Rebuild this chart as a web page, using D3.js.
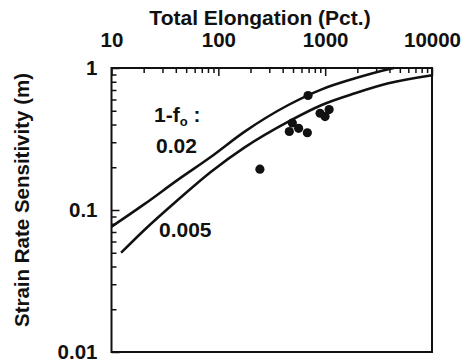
<!DOCTYPE html>
<html lang="en">
<head>
<meta charset="utf-8">
<title>Strain rate sensitivity vs elongation</title>
<script src="https://cdn.jsdelivr.net/npm/d3@7"></script>
<style>
  body { margin: 0; background: #fff; }
  text { font-family: "Liberation Sans", Arial, sans-serif; font-weight: bold; fill: #111; }
</style>
</head>
<body>
<div id="chart"></div>
<script>
// axis ticks
var xTicks = [10, 100, 1000, 10000];
var yTicks = [0.01, 0.1, 1];

// model curves
var upperX = [10, 20.3, 41.7, 85.5, 175, 452, 929, 1905, 3908, 4400];
var upperY = [0.0763, 0.110, 0.163, 0.237, 0.355, 0.549, 0.708, 0.846, 0.98, 1.0];
var lowerX = [12.3, 20.3, 41.7, 85.5, 175, 452, 929, 1905, 3908, 10000];
var lowerY = [0.050, 0.0723, 0.1175, 0.186, 0.275, 0.419, 0.549, 0.664, 0.780, 0.89];

// measured points
var elong = [692, 493, 462, 564, 681, 896, 998, 1089, 245];
var mVals = [0.64, 0.41, 0.357, 0.376, 0.35, 0.48, 0.455, 0.51, 0.194];

var w = 463, h = 362;
// plot box (note: "top" is taken by window.top, so use pl/pr/pt/pb)
var pl = 111.5, pr = 432, pt = 68, pb = 352;

var svg = d3.select("#chart").append("svg")
  .attr("width", w)
  .attr("height", h);

var x = d3.scaleLog().domain([10, 10000]).range([pl, pr]);
var y = d3.scaleLog().domain([0.01, 1]).range([pb, pt]);

// minor ticks 2..9 of each decade
function minors(lo, hi) {
  var out = [];
  for (var d = lo; d < hi * 0.999; d *= 10) {
    for (var k = 2; k <= 9; k++) out.push(d * k);
  }
  return out;
}

// top axis: minor and major ticks pointing in
svg.append("g")
  .attr("transform", "translate(0," + pt + ")")
  .call(d3.axisTop(x).tickValues(minors(10, 10000)).tickSize(-5).tickFormat(""))
  .call(function(g) { g.select(".domain").remove(); });

svg.append("g")
  .attr("transform", "translate(0," + pt + ")")
  .call(d3.axisTop(x).tickValues(xTicks).tickSize(-8).tickPadding(21).tickFormat(d3.format("d")))
  .call(function(g) { g.select(".domain").remove(); })
  .selectAll("text")
  .attr("font-size", 20.5)
  .attr("dy", 0);

// left axis
svg.append("g")
  .attr("transform", "translate(" + pl + ",0)")
  .call(d3.axisLeft(y).tickValues(minors(0.01, 1)).tickSize(-5).tickFormat(""))
  .call(function(g) { g.select(".domain").remove(); });

svg.append("g")
  .attr("transform", "translate(" + pl + ",0)")
  .call(d3.axisLeft(y).tickValues(yTicks).tickSize(-8).tickPadding(14).tickFormat(function(d) { return String(d); }))
  .call(function(g) { g.select(".domain").remove(); })
  .selectAll("text")
  .attr("font-size", 20.5);

svg.selectAll(".tick line").attr("stroke", "#111").attr("stroke-width", 1.5);
svg.selectAll(".tick text").attr("fill", "#111");

// frame
svg.append("rect")
  .attr("x", pl)
  .attr("y", pt)
  .attr("width", pr - pl)
  .attr("height", pb - pt)
  .attr("fill", "none")
  .attr("stroke", "#111")
  .attr("stroke-width", 2);

// curves
var line = d3.line()
  .x(function(d) { return x(d[0]); })
  .y(function(d) { return y(d[1]); })
  .curve(d3.curveMonotoneX);

svg.append("path")
  .datum(d3.zip(upperX, upperY))
  .attr("d", line)
  .attr("fill", "none")
  .attr("stroke", "#111")
  .attr("stroke-width", 2.5);

svg.append("path")
  .datum(d3.zip(lowerX, lowerY))
  .attr("d", line)
  .attr("fill", "none")
  .attr("stroke", "#111")
  .attr("stroke-width", 2.5);

// dots
svg.selectAll("circle")
  .data(d3.zip(elong, mVals))
  .enter()
  .append("circle")
  .attr("cx", function(d) { return x(d[0]); })
  .attr("cy", function(d) { return y(d[1]); })
  .attr("r", 4.6)
  .attr("fill", "#111");

// labels inside the plot
var lab = svg.append("text").attr("x", 154).attr("y", 122).attr("font-size", 21);
lab.append("tspan").text("1-f");
lab.append("tspan").attr("font-size", 13).attr("dy", 4).text("o");
lab.append("tspan").attr("dy", -4).text(" :");

svg.append("text").attr("x", 156).attr("y", 153).attr("font-size", 21).text("0.02");
svg.append("text").attr("x", 159).attr("y", 237).attr("font-size", 21).text("0.005");

// axis titles
svg.append("text")
  .attr("x", 260)
  .attr("y", 25)
  .attr("text-anchor", "middle")
  .attr("font-size", 21)
  .text("Total Elongation (Pct.)");

svg.append("text")
  .attr("transform", "translate(29,200) rotate(-90)")
  .attr("text-anchor", "middle")
  .attr("font-size", 20.5)
  .text("Strain Rate Sensitivity (m)");
</script>
</body>
</html>
